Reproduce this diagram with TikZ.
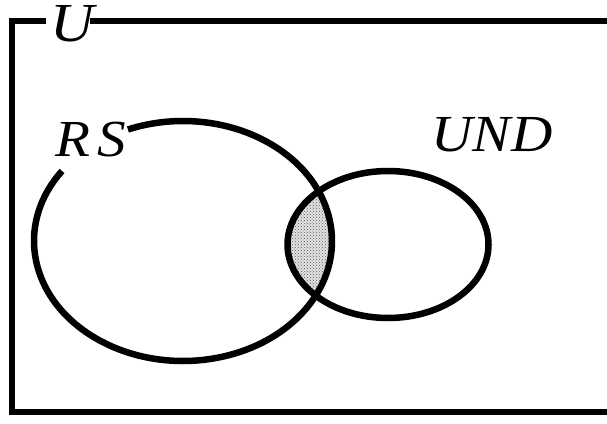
\documentclass[tikz,border=0pt]{standalone}
\usepackage{fontspec}
\setmainfont{Liberation Serif}
\usetikzlibrary{patterns}
\begin{document}
\begin{tikzpicture}[x=1pt,y=1pt,
  thickline/.style={line width=6.5pt},
  framel/.style={line width=6pt},
  lbl/.style={font=\fontsize{52}{58}\selectfont\itshape, inner sep=0pt, anchor=base, xscale=1.1}]
\useasboundingbox (0,0) rectangle (607,423);
% frame (right side runs off the picture)
\coordinate (ftl) at (12,401.5);
\coordinate (fgapL) at (46,401.5);
\coordinate (fgapR) at (90,401.5);
\coordinate (ftr) at (612,401.5);
\coordinate (fbl) at (12,11.5);
\coordinate (fbr) at (612,11.5);
\draw[framel] (fgapL) -- (ftl) -- (fbl) -- (fbr);
\draw[framel] (fgapR) -- (ftr);
\node[lbl, font=\fontsize{55}{60}\selectfont\itshape] (U) at (72,381) {U};
% ellipses
\coordinate (rs) at (183,182);
\coordinate (und) at (388,178.5);
\begin{scope}
  \clip (rs) ellipse [x radius=149, y radius=120];
  \fill[gray!22] (und) ellipse [x radius=100.5, y radius=73.5];
  \fill[pattern=crosshatch dots, pattern color=black!65] (und) ellipse [x radius=100.5, y radius=73.5];
\end{scope}
\draw[thickline] (rs) ++(144.3:149 and 120) arc[start angle=144.3, end angle=471.7, x radius=149, y radius=120];
\draw[thickline] (und) ellipse [x radius=100.5, y radius=73.5];
\node[lbl] (RS) at (91,266) {R\kern7pt S};
\node[lbl] (UND) at (492,271.5) {UND};
\end{tikzpicture}
\end{document}
